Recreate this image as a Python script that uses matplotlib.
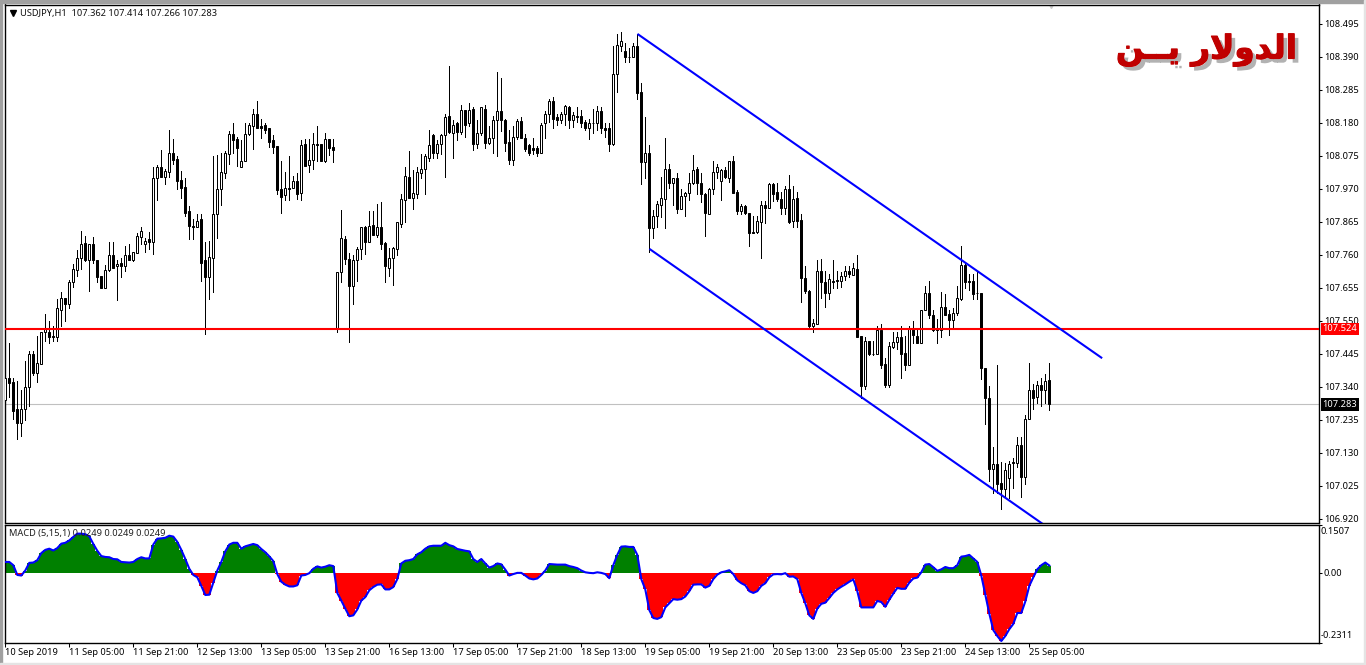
import numpy as np
import matplotlib
matplotlib.use("Agg")
import matplotlib.pyplot as plt
import matplotlib.patheffects as pe
from matplotlib.patches import Rectangle

plt.rcParams['font.family'] = ['Noto Sans', 'DejaVu Sans']

# ==============================
# DATA
# ==============================

opens = [
107.298,107.368,107.355,107.267,107.225,107.267,107.337,107.445,107.384,107.413,
107.512,107.515,107.502,107.499,107.585,107.623,107.604,107.671,107.712,107.750,
107.798,107.744,107.795,107.744,107.693,107.655,107.712,107.760,107.722,107.734,
107.722,107.757,107.741,107.766,107.817,107.792,107.808,107.801,108.002,108.040,
108.008,108.024,108.084,108.065,107.998,107.976,107.900,107.852,107.846,107.874,
107.741,107.690,107.750,107.890,107.967,108.018,108.081,108.142,108.129,108.040,
108.059,108.142,108.170,108.208,108.170,108.173,108.161,108.123,108.106,107.967,
107.948,107.973,107.973,107.995,107.957,108.113,108.046,108.062,108.113,108.113,
108.056,108.129,108.103,107.527,107.703,107.808,107.747,107.661,107.741,107.779,
107.846,107.801,107.855,107.823,107.846,107.798,107.718,107.750,107.779,107.858,
107.935,108.008,107.941,107.954,108.018,108.033,108.068,108.139,108.084,108.113,
108.139,108.202,108.148,108.177,108.151,108.221,108.177,108.224,108.113,108.148,
108.224,108.116,108.132,108.189,108.218,108.189,108.119,108.062,108.135,108.186,
108.132,108.107,108.100,108.100,108.084,108.177,108.208,108.250,108.196,108.189,
108.208,108.228,108.189,108.202,108.202,108.183,108.164,108.180,108.180,108.218,
108.164,108.161,108.113,108.333,108.425,108.409,108.390,108.387,108.425,108.278,
108.053,108.084,107.843,107.884,107.919,107.938,108.033,107.986,108.002,107.906,
107.945,107.957,107.986,108.033,107.986,107.954,107.890,107.967,108.021,107.995,
108.030,108.005,108.059,107.960,107.900,107.913,107.893,107.833,107.833,107.865,
107.919,107.909,107.983,107.960,107.938,107.909,107.970,107.868,107.941,107.871,
107.684,107.645,107.534,107.540,107.709,107.674,107.639,107.677,107.680,107.677,
107.693,107.709,107.696,107.715,107.502,107.343,107.486,107.445,107.442,107.521,
107.413,107.346,107.467,107.483,107.499,107.448,107.407,107.527,107.502,107.480,
107.585,107.636,107.566,107.527,107.521,107.594,107.572,107.553,107.575,107.620,
107.728,107.677,107.677,107.639,107.636,107.400,107.305,107.076,107.092,107.034,
107.015,107.050,107.101,107.098,107.155,107.053,107.238,107.330,107.308,107.346,
107.330,107.362]

closes = [
107.368,107.352,107.263,107.225,107.270,107.337,107.445,107.384,107.416,107.515,
107.527,107.496,107.496,107.591,107.623,107.604,107.674,107.715,107.750,107.795,
107.744,107.792,107.744,107.690,107.655,107.712,107.760,107.718,107.731,107.722,
107.757,107.741,107.769,107.820,107.836,107.804,107.801,108.005,108.040,108.008,
108.027,108.084,108.062,107.995,107.973,107.893,107.852,107.846,107.868,107.734,
107.690,107.753,107.890,107.967,108.021,108.084,108.142,108.123,108.100,108.056,
108.145,108.173,108.208,108.164,108.164,108.157,108.119,108.103,107.964,107.944,
107.973,107.970,107.995,107.954,108.110,108.043,108.062,108.113,108.110,108.056,
108.129,108.100,108.091,107.703,107.811,107.747,107.661,107.741,107.779,107.846,
107.801,107.852,107.823,107.846,107.795,107.722,107.750,107.782,107.862,107.938,
108.011,107.941,107.957,108.021,108.033,108.072,108.110,108.084,108.113,108.139,
108.196,108.151,108.173,108.151,108.221,108.173,108.221,108.113,108.148,108.228,
108.116,108.132,108.189,108.218,108.189,108.116,108.062,108.135,108.186,108.132,
108.097,108.084,108.094,108.084,108.173,108.208,108.250,108.192,108.189,108.208,
108.231,108.189,108.205,108.199,108.180,108.161,108.180,108.177,108.218,108.164,
108.157,108.113,108.333,108.428,108.438,108.387,108.387,108.425,108.275,108.053,
108.084,107.843,107.884,107.922,107.941,108.033,107.986,108.002,107.906,107.945,
107.957,107.986,108.030,107.986,107.954,107.893,107.970,108.021,108.037,108.030,
108.008,108.059,107.957,107.900,107.913,107.893,107.830,107.830,107.868,107.919,
107.909,107.983,107.954,107.938,107.909,107.970,107.865,107.938,107.868,107.684,
107.645,107.534,107.543,107.709,107.674,107.639,107.683,107.674,107.677,107.693,
107.709,107.699,107.718,107.499,107.343,107.486,107.442,107.442,107.521,107.407,
107.346,107.470,107.483,107.499,107.445,107.407,107.527,107.505,107.477,107.585,
107.636,107.566,107.521,107.521,107.594,107.569,107.553,107.575,107.623,107.728,
107.674,107.674,107.633,107.636,107.400,107.305,107.076,107.092,107.031,107.015,
107.073,107.095,107.098,107.155,107.053,107.238,107.330,107.305,107.346,107.330,
107.359,107.283]

highs = [
107.375,107.480,107.368,107.359,107.330,107.420,107.452,107.452,107.502,107.515,
107.572,107.550,107.534,107.617,107.642,107.623,107.680,107.731,107.773,107.836,
107.820,107.795,107.817,107.744,107.693,107.728,107.801,107.801,107.741,107.750,
107.788,107.792,107.769,107.827,107.849,107.811,107.833,108.037,108.046,108.094,
108.033,108.157,108.126,108.075,108.027,108.002,107.913,107.874,107.890,107.890,
107.801,107.804,108.075,108.078,108.084,108.088,108.154,108.180,108.135,108.123,
108.180,108.180,108.224,108.250,108.192,108.177,108.164,108.139,108.106,108.059,
108.021,108.072,108.011,108.018,108.123,108.126,108.126,108.148,108.170,108.113,
108.148,108.129,108.129,107.703,107.903,107.820,107.766,107.760,107.785,107.846,
107.852,107.900,107.897,107.922,107.926,107.801,107.782,107.785,107.862,107.954,
108.037,108.088,108.030,108.040,108.081,108.081,108.157,108.145,108.123,108.145,
108.208,108.361,108.189,108.183,108.237,108.221,108.243,108.228,108.189,108.228,
108.237,108.170,108.202,108.342,108.323,108.192,108.157,108.170,108.192,108.196,
108.142,108.113,108.132,108.106,108.180,108.218,108.256,108.262,108.208,108.212,
108.237,108.231,108.215,108.228,108.221,108.189,108.192,108.224,108.231,108.228,
108.177,108.180,108.425,108.463,108.469,108.434,108.418,108.434,108.463,108.307,
108.199,108.110,107.903,107.929,108.008,108.132,108.049,108.005,108.018,107.970,
107.960,108.018,108.078,108.037,108.018,107.957,107.973,108.059,108.049,108.033,
108.037,108.059,108.075,107.964,107.922,107.919,107.893,107.884,107.884,107.929,
107.929,107.989,107.989,107.986,107.960,107.979,108.014,107.979,107.960,107.890,
107.722,107.648,107.556,107.744,107.747,107.706,107.699,107.741,107.706,107.703,
107.725,107.725,107.734,107.760,107.502,107.496,107.486,107.486,107.534,107.540,
107.432,107.483,107.512,107.512,107.531,107.502,107.534,107.550,107.527,107.585,
107.661,107.677,107.585,107.556,107.642,107.633,107.582,107.591,107.661,107.788,
107.734,107.699,107.699,107.703,107.639,107.400,107.343,107.146,107.410,107.101,
107.098,107.104,107.111,107.178,107.178,107.248,107.416,107.349,107.359,107.368,
107.381,107.414]

lows = [
107.286,107.308,107.238,107.174,107.184,107.235,107.279,107.378,107.355,107.413,
107.486,107.480,107.486,107.486,107.531,107.547,107.591,107.658,107.693,107.715,
107.738,107.645,107.734,107.671,107.652,107.655,107.709,107.718,107.614,107.690,
107.709,107.741,107.738,107.766,107.792,107.769,107.779,107.763,107.935,108.008,
107.983,108.008,108.049,107.967,107.941,107.884,107.808,107.808,107.846,107.677,
107.508,107.620,107.642,107.811,107.919,108.005,108.049,108.084,108.043,108.037,
108.059,108.139,108.097,108.164,108.132,108.148,108.103,108.084,107.954,107.893,
107.932,107.935,107.973,107.938,107.932,108.043,108.021,108.033,108.059,108.056,
108.053,108.078,108.053,107.512,107.671,107.731,107.483,107.601,107.677,107.747,
107.763,107.801,107.823,107.817,107.779,107.674,107.693,107.664,107.760,107.846,
107.865,107.941,107.906,107.941,108.002,107.951,108.059,108.068,108.068,108.081,
108.008,108.148,108.068,108.123,108.145,108.135,108.170,108.094,108.100,108.139,
108.100,108.113,108.084,108.075,108.154,108.088,108.049,108.046,108.129,108.132,
108.088,108.078,108.081,108.072,108.084,108.132,108.183,108.164,108.173,108.177,
108.173,108.164,108.167,108.183,108.167,108.157,108.129,108.148,108.157,108.148,
108.135,108.088,108.107,108.278,108.409,108.374,108.374,108.387,108.256,107.983,
108.002,107.769,107.814,107.846,107.878,107.843,107.973,107.919,107.893,107.906,
107.881,107.932,107.983,107.954,107.926,107.820,107.890,107.954,108.002,107.935,
108.005,107.992,107.957,107.890,107.890,107.890,107.788,107.827,107.830,107.750,
107.859,107.909,107.929,107.929,107.890,107.890,107.859,107.849,107.846,107.610,
107.639,107.527,107.512,107.540,107.623,107.594,107.620,107.655,107.655,107.658,
107.680,107.687,107.696,107.496,107.305,107.333,107.439,107.439,107.442,107.400,
107.337,107.337,107.461,107.458,107.368,107.394,107.407,107.480,107.477,107.480,
107.582,107.559,107.518,107.480,107.496,107.569,107.505,107.527,107.569,107.614,
107.652,107.648,107.620,107.620,107.365,107.222,107.038,107.000,107.000,106.949,
106.984,106.984,107.018,107.085,106.987,107.031,107.238,107.270,107.289,107.279,
107.289,107.266]

# MACD in points (1 point = 0.001)
macd_points = [
37,37,26,-7,-9,8,34,35,43,67,78,82,76,84,99,102,110,122,133,133,
131,124,98,75,57,54,53,47,46,37,36,35,37,47,53,49,49,96,116,117,
119,126,123,105,78,47,14,-7,-15,-44,-75,-74,-33,8,37,73,96,102,102,82,
90,94,98,94,81,70,56,40,-4,-30,-40,-46,-46,-42,-9,-7,-1,14,22,18,
21,26,23,-68,-94,-121,-147,-144,-124,-94,-82,-59,-48,-40,-39,-56,-56,-48,-21,32,
41,43,47,63,70,82,90,92,92,92,102,94,90,81,78,75,73,47,37,47,
32,18,23,32,29,11,-9,-4,0,0,-9,-19,-22,-19,-7,8,30,29,28,28,
28,23,20,16,8,2,0,-1,2,0,-4,-18,26,61,89,90,88,88,61,-21,
-56,-126,-153,-156,-150,-117,-103,-89,-91,-89,-80,-62,-40,-39,-39,-50,-44,-21,-6,2,
5,9,-4,-25,-35,-42,-62,-68,-62,-44,-35,-15,-5,-4,-5,-1,-13,-12,-21,-68,
-103,-144,-156,-121,-105,-101,-85,-68,-56,-47,-39,-30,-22,-62,-117,-117,-117,-117,-95,-99,
-115,-91,-70,-51,-54,-54,-33,-19,-16,2,28,30,19,7,12,20,16,16,26,55,
57,61,49,37,-9,-74,-138,-194,-214,-231,-214,-191,-173,-136,-136,-97,-44,-15,12,26,
35,25]

price_ticks = [108.495,108.390,108.285,108.180,108.075,107.970,107.865,107.760,
               107.655,107.550,107.445,107.340,107.235,107.130,107.025,106.920]

time_ticks = [0,16,32,48,64,80,96,112,128,144,160,176,192,208,224,240,256]
time_labels = ["10 Sep 2019","11 Sep 05:00","11 Sep 21:00","12 Sep 13:00",
               "13 Sep 05:00","13 Sep 21:00","16 Sep 13:00","17 Sep 05:00",
               "17 Sep 21:00","18 Sep 13:00","19 Sep 05:00","19 Sep 21:00",
               "20 Sep 13:00","23 Sep 05:00","23 Sep 21:00","24 Sep 13:00",
               "25 Sep 05:00"]

resistance = 107.524
last_close = 107.283

# channel end points: (bar number, price)
channel_top = [(158.25,108.460),(274.0,107.432)]
channel_bottom = [(161.25,107.776),(260.0,106.897)]

title_ar = "\ufee6\u0640\u0640\ufef3 \ufead\ufefb\ufeed\ufeaa\ufedf\ufe8d"   # الدولار يــن, visual order


# ==============================
# FIGURE AND PANES
# ==============================

W, H = 1366, 665
fig = plt.figure(figsize=(W/100, H/100), dpi=100, facecolor="white")

def pane(left, top, right, bottom):
    return fig.add_axes([left/W, 1-bottom/H, (right-left)/W, (bottom-top)/H])

# window frame
fig.add_artist(Rectangle((0, 1-3/H), 1, 3/H, transform=fig.transFigure, color="#a0a0a0"))
fig.add_artist(Rectangle((0, 0), 2/W, 1, transform=fig.transFigure, color="#a0a0a0"))
fig.add_artist(Rectangle((0, 0), 1, 2/H, transform=fig.transFigure, color="#e4e4e4"))
fig.add_artist(Rectangle((1-2/W, 0), 2/W, 1, transform=fig.transFigure, color="#e4e4e4"))

ax = pane(4.5, 4.5, 1318.5, 522.5)
ax2 = pane(4.5, 524.5, 1318.5, 642.5)

# bar edges must not land on a pixel boundary, or snapping closes the hollow bodies
XMIN, XMAX = -0.2, 328.3
FS = 6.7


# ==============================
# CANDLES
# ==============================

bars = np.arange(len(opens))
o = np.array(opens)
c = np.array(closes)
up = c >= o

ax.vlines(bars, lows, highs, color="black", linewidth=0.72, antialiased=False, zorder=3)
ax.bar(bars, np.abs(c-o), bottom=np.minimum(o,c), width=0.5,
       color=["white" if u else "black" for u in up],
       edgecolor="black", linewidth=0.72, zorder=4)

ax.axhline(last_close, color="#c0c0c0", linewidth=0.8, zorder=1)
ax.axhline(resistance, color="#ff0000", linewidth=1.5, zorder=5)

for line in (channel_top, channel_bottom):
    ax.plot([line[0][0],line[1][0]], [line[0][1],line[1][1]],
            color="#0000ff", linewidth=1.5, zorder=6)

ax.set_xlim(XMIN, XMAX)
ax.set_ylim(106.9073, 108.5555)
ax.set_xticks([])
ax.yaxis.tick_right()
ax.set_yticks(price_ticks)
ax.set_yticklabels([f"{p:.3f}" for p in price_ticks], fontsize=FS)
ax.tick_params(axis="y", length=2.5, width=0.75, pad=1.5)
for s in ax.spines.values():
    s.set_linewidth(1.0)

# price labels sitting on the axis
for val, bg in ((resistance, "#ff0000"), (last_close, "black")):
    ax.annotate(f"{val:.3f}", xy=(1, val), xycoords=("axes fraction", "data"),
                xytext=(3.0, 0), textcoords="offset points", ha="left", va="center",
                color="white", fontsize=FS, annotation_clip=False, zorder=10,
                bbox=dict(boxstyle="square,pad=0.18", fc=bg, ec="none"))

# header
ax.plot([0.0065], [0.9835], marker="v", color="black", markersize=4.5,
        transform=ax.transAxes, clip_on=False)
ax.text(0.0118, 0.9825, "USDJPY,H1  107.362 107.414 107.266 107.283",
        transform=ax.transAxes, fontsize=FS, color="#101010", va="center", ha="left")

# period marker at the top of the chart
ax.plot([261.5], [1.0], marker="v", color="#c8c8c8", markersize=5,
        transform=ax.get_xaxis_transform(), clip_on=True)

# title with shadow
ax.text(0.9836, 0.912, title_ar, transform=ax.transAxes, fontsize=23.5,
        fontweight="bold", family="DejaVu Sans", color="#c00000", ha="right", va="center",
        path_effects=[pe.withSimplePatchShadow(offset=(3,-3), shadow_rgbFace="#808080", alpha=0.6),
                      pe.Stroke(linewidth=0.8, foreground="#c00000"),
                      pe.Normal()], zorder=8)


# ==============================
# MACD
# ==============================

macd = np.array(macd_points) / 1000

ax2.bar(bars, macd, width=1.0, color=["#008000" if m > 0 else "#ff0000" for m in macd],
        linewidth=0, zorder=2)
ax2.plot(bars, macd, color="#0000ff", linewidth=1.5, zorder=3)

ax2.set_xlim(XMIN, XMAX)
ax2.set_ylim(-0.236, 0.164)
ax2.yaxis.tick_right()
ax2.set_yticks([0.164, 0.0, -0.236])
ax2.set_yticklabels(["", "0.00", ""], fontsize=FS)
ax2.tick_params(axis="y", length=2.5, width=0.75, pad=1.0)
ax2.set_xticks(time_ticks)
ax2.set_xticklabels(time_labels, fontsize=FS, ha="left")
ax2.tick_params(axis="x", length=3, width=0.75, pad=1.0)
for s in ax2.spines.values():
    s.set_linewidth(1.0)
for lab in ax2.get_xticklabels():
    lab.set_x(lab.get_position()[0])

ax2.text(1.0016, 0.94, "0.1507", transform=ax2.transAxes, fontsize=FS, va="center", ha="left")
ax2.text(1.0016, 0.06, "-0.2311", transform=ax2.transAxes, fontsize=FS, va="center", ha="left")
ax2.text(0.0035, 0.92, "MACD (5,15,1) 0.0249 0.0249 0.0249", transform=ax2.transAxes,
         fontsize=FS, color="#202020", va="center", ha="left", zorder=5)

plt.savefig("out.png", dpi=100, facecolor=fig.get_facecolor())
